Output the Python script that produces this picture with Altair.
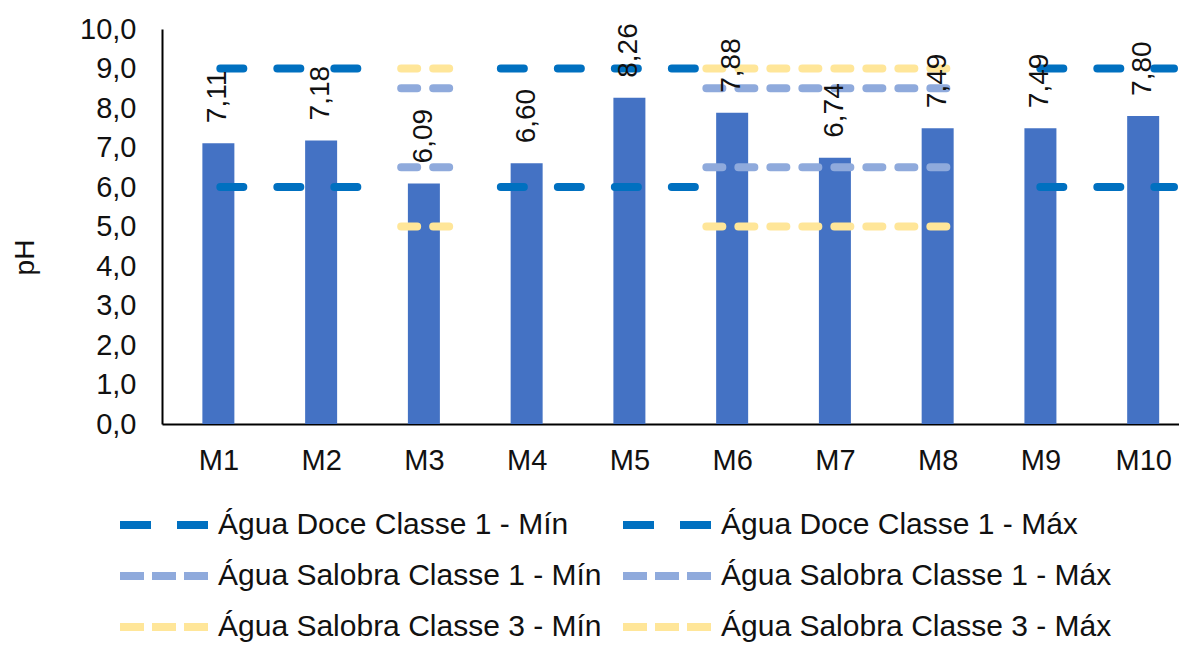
import json
import altair as alt
import pandas as pd

# ---------------- data ----------------
categories = ["M1", "M2", "M3", "M4", "M5", "M6", "M7", "M8", "M9", "M10"]
ph_values = [7.11, 7.18, 6.09, 6.60, 8.26, 7.88, 6.74, 7.49, 7.49, 7.80]

series_names = [
    "Água Doce Classe 1 - Mín",
    "Água Salobra Classe 1 - Mín",
    "Água Salobra Classe 3 - Mín",
    "Água Doce Classe 1 - Máx",
    "Água Salobra Classe 1 - Máx",
    "Água Salobra Classe 3 - Máx",
]
series_levels = [6.0, 6.5, 5.0, 9.0, 8.5, 9.0]
series_group = ["doce", "salobra", "salobra", "doce", "salobra", "salobra"]
series_colors = ["#0070C0", "#8FAADC", "#FFE699", "#0070C0", "#8FAADC", "#FFE699"]
# dash pattern seen in the legend (flat ends) and drawn on the plot (round ends)
legend_dash = [[31, 26], [24, 8], [24, 8], [31, 26], [24, 8], [24, 8]]
line_dash = [[23, 34], [16, 16], [16, 16], [23, 34], [16, 16], [16, 16]]

# spans of the reference lines, in category units (0 = left edge of M1 slot)
doce_span_start = [0.48, 3.21, 8.46]
doce_span_end = [1.87, 5.16, 9.8]
salobra_span_start = [2.24, 5.21]
salobra_span_end = [2.78, 7.62]

y_ticks = [0, 1, 2, 3, 4, 5, 6, 7, 8, 9, 10]

# ---------------- tables ----------------
bars = pd.DataFrame({
    "cat": categories,
    "pos": [i + 0.5 for i in range(len(categories))],
    "ph": ph_values,
    "label": [f"{v:.2f}".replace(".", ",") for v in ph_values],
})

rows = []
for name, lvl, grp in zip(series_names, series_levels, series_group):
    if grp == "doce":
        spans = zip(doce_span_start, doce_span_end)
    else:
        spans = zip(salobra_span_start, salobra_span_end)
    for a, b in spans:
        rows.append({"serie": name, "level": lvl, "x0": a, "x1": b})
lines = pd.DataFrame(rows)
legend_rows = lines.drop_duplicates("serie").assign(x1=lambda d: d["x0"])

FONT = "Liberation Sans"
PLOT_W, PLOT_H = 1017, 395

x_scale = alt.Scale(domain=[0, 9.8], nice=False, zero=False)
y_scale = alt.Scale(domain=[0, 10], nice=False)

label_js = json.dumps(categories)

x_axis = alt.Axis(
    values=bars["pos"].tolist(),
    labelExpr=f"{label_js}[floor(datum.value)]",
    title=None, ticks=False, grid=False, labelAngle=0,
    labelFlush=False, labelOverlap=False,
    labelFontSize=29, labelFont=FONT, labelColor="#111111",
    labelPadding=22, domainColor="#000000", domainWidth=2,
)
y_axis = alt.Axis(
    values=y_ticks,
    labelExpr="replace(format(datum.value, '.1f'), '.', ',')",
    labelOverlap=False, labelFlush=False,
    title="pH", titleFontSize=28, titleFont=FONT, titleFontWeight="normal",
    titleColor="#111111", titleX=-137, titleY=228, titleAngle=270,
    titleBaseline="middle", titleAlign="center",
    ticks=False, grid=False,
    labelFontSize=29, labelFont=FONT, labelColor="#111111",
    labelPadding=26, domainColor="#000000", domainWidth=2,
)

bar_layer = alt.Chart(bars).mark_bar(size=32, color="#4472C4").encode(
    x=alt.X("pos:Q", scale=x_scale, axis=x_axis),
    y=alt.Y("ph:Q", scale=y_scale, axis=y_axis),
)

legend = alt.Legend(
    title=None, orient="none", legendX=-46, legendY=481,
    columns=2, symbolType="stroke", symbolSize=88 * 88,
    symbolStrokeWidth=8, clipHeight=30, rowPadding=21, columnPadding=17,
    labelFontSize=30, labelFont=FONT, labelColor="#111111",
    labelOffset=6, labelLimit=800, padding=0,
)

line_layer = alt.Chart(lines).mark_rule(
    strokeWidth=8, strokeCap="round", strokeDashOffset=-4
).encode(
    x=alt.X("x0:Q", scale=x_scale, axis=x_axis),
    x2="x1:Q",
    y=alt.Y("level:Q", scale=y_scale, axis=y_axis),
    color=alt.Color("serie:N", scale=alt.Scale(domain=series_names, range=series_colors), legend=None),
    strokeDash=alt.StrokeDash("serie:N", scale=alt.Scale(domain=series_names, range=line_dash), legend=None),
)

legend_layer = alt.Chart(legend_rows).mark_rule(strokeWidth=8, strokeCap="butt").encode(
    x=alt.X("x0:Q", scale=x_scale, axis=x_axis),
    x2="x1:Q",
    y=alt.Y("level:Q", scale=y_scale, axis=y_axis),
    color=alt.Color("serie:N", scale=alt.Scale(domain=series_names, range=series_colors), legend=legend),
    strokeDash=alt.StrokeDash("serie:N", scale=alt.Scale(domain=series_names, range=legend_dash), legend=legend),
)

text_layer = alt.Chart(bars).mark_text(
    angle=270, align="left", baseline="middle", dx=20,
    fontSize=28, font=FONT, color="#111111",
).encode(
    x=alt.X("pos:Q", scale=x_scale, axis=x_axis),
    y=alt.Y("ph:Q", scale=y_scale, axis=y_axis),
    text="label:N",
)

chart = alt.layer(bar_layer, line_layer, legend_layer, text_layer).resolve_scale(
    color="independent", strokeDash="independent"
).properties(
    width=PLOT_W, height=PLOT_H,
    autosize=alt.AutoSizeParams(type="none"),
    padding={"left": 154, "top": 21, "right": 0, "bottom": 634 - 21 - PLOT_H},
).configure_view(stroke=None).configure_axis(labelOverlap=False)

chart.save("out.html", embed_options={"renderer": "svg", "actions": False})
